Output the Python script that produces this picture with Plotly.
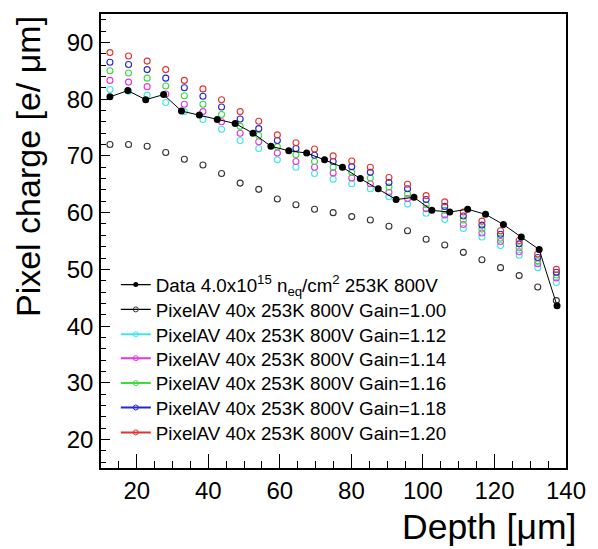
import plotly.graph_objects as go

# ---------------- data ----------------
data_depth = [12.5, 17.5, 22.5, 27.5, 32.5, 37.5, 42.5, 47.5, 52.5, 57.5, 62.5, 67.5, 72.5,
              77.5, 82.5, 87.5, 92.5, 97.5, 102.5, 107.5, 112.5, 117.5, 122.5, 127.5, 132.5, 137.5]
data_charge = [80.4, 81.5, 79.9, 80.8, 77.9, 77.2, 76.4, 75.7, 74.0, 71.7, 70.9, 70.5, 69.3,
               68.0, 66.0, 64.2, 62.3, 62.7, 60.4, 60.1, 60.6, 59.7, 57.9, 55.7, 53.5, 43.6]

sim_depth = [12.5, 17.7, 22.9, 28.1, 33.3, 38.5, 43.7, 48.9, 54.1, 59.3, 64.5, 69.7, 74.9,
             80.1, 85.3, 90.5, 95.7, 100.9, 106.1, 111.3, 116.5, 121.7, 126.9, 132.1, 137.3]
sim_gain100 = [72.0, 72.0, 71.7, 70.6, 69.4, 68.4, 66.9, 65.2, 64.1, 62.4, 61.4, 60.6, 60.0,
               59.3, 58.7, 57.6, 56.8, 55.3, 54.3, 53.0, 51.7, 50.3, 48.9, 46.9, 44.5]
sim_gain112 = [81.7, 81.4, 80.7, 79.4, 77.8, 76.4, 74.7, 72.7, 71.3, 69.3, 68.0, 66.9, 65.9,
               65.1, 64.2, 62.8, 61.5, 59.9, 58.8, 57.2, 55.7, 54.2, 52.5, 50.3, 47.7]
sim_gain114 = [83.3, 83.0, 82.2, 80.9, 79.1, 77.8, 76.0, 74.0, 72.5, 70.5, 69.0, 68.0, 67.0,
               66.1, 65.1, 63.6, 62.5, 60.7, 59.6, 57.9, 56.4, 54.9, 53.1, 51.0, 48.5]
sim_gain116 = [85.0, 84.6, 83.7, 82.3, 80.6, 79.1, 77.3, 75.2, 73.6, 71.6, 70.2, 69.0, 68.0,
               67.1, 66.1, 64.5, 63.3, 61.4, 60.4, 58.7, 57.1, 55.5, 53.8, 51.5, 49.0]
sim_gain118 = [86.5, 86.1, 85.2, 83.7, 82.0, 80.5, 78.6, 76.5, 74.8, 72.7, 71.3, 70.1, 69.0,
               68.1, 67.1, 65.3, 64.2, 62.3, 61.1, 59.4, 57.8, 56.2, 54.5, 52.1, 49.5]
sim_gain120 = [88.2, 87.6, 86.7, 85.2, 83.3, 81.8, 79.9, 77.8, 76.1, 73.7, 72.3, 71.2, 70.0,
               69.1, 68.0, 66.2, 65.0, 63.0, 61.9, 60.1, 58.5, 56.8, 55.1, 52.7, 50.0]

data_label = "Data 4.0x10<sup>15</sup> n<sub>eq</sub>/cm<sup>2</sup> 253K 800V"
sim_labels = ["PixelAV 40x 253K 800V Gain=1.00", "PixelAV 40x 253K 800V Gain=1.12",
              "PixelAV 40x 253K 800V Gain=1.14", "PixelAV 40x 253K 800V Gain=1.16",
              "PixelAV 40x 253K 800V Gain=1.18", "PixelAV 40x 253K 800V Gain=1.20"]
sim_series = [sim_gain100, sim_gain112, sim_gain114, sim_gain116, sim_gain118, sim_gain120]
sim_colors = ["#333333", "#3fe8e8", "#e833e8", "#3cdc3c", "#2626d0", "#e23333"]
legend_line_colors = ["#000000", "#3fe8e8", "#e833e8", "#3cdc3c", "#2626d0", "#e23333"]

FONT = "Liberation Sans, Arial, Helvetica, sans-serif"

# plot-area geometry (pixels) used to place the legend rows
W, H = 598, 549
ML, MR, MT, MB = 101, 26, 12, 81
legend_row_px = [284, 309, 334, 358, 383, 407.5, 432.5]
legend_left_px = 116

fig = go.Figure()

# simulation points (markers only in the plot)
for ys, col in zip(sim_series, sim_colors):
    fig.add_trace(go.Scatter(
        x=sim_depth, y=ys, mode="markers", showlegend=False,
        marker=dict(symbol="circle-open", size=6, color=col, line=dict(width=1.1, color=col)),
        hoverinfo="x+y"))

# data
fig.add_trace(go.Scatter(
    x=data_depth, y=data_charge, mode="lines+markers", showlegend=False,
    line=dict(color="black", width=1),
    marker=dict(symbol="circle", size=7, color="black")))

# legend entries (line + marker like the ROOT legend), one legend per row
legend_names = ["legend"] + ["legend%d" % i for i in range(2, 8)]
fig.add_trace(go.Scatter(
    x=[None], y=[None], mode="lines+markers", name=data_label, legend=legend_names[0],
    line=dict(color="black", width=1.3), marker=dict(symbol="circle", size=5, color="black")))
for k, (lab, col, lcol) in enumerate(zip(sim_labels, sim_colors, legend_line_colors)):
    fig.add_trace(go.Scatter(
        x=[None], y=[None], mode="lines+markers", name=lab, legend=legend_names[k + 1],
        line=dict(color=lcol, width=2 if lcol != "#000000" else 1.3),
        marker=dict(symbol="circle-open", size=5, color=col, line=dict(width=1, color=col))))

plot_w = W - ML - MR
plot_h = H - MT - MB
legend_layout = {}
for name, ypx in zip(legend_names, legend_row_px):
    legend_layout[name] = dict(
        x=(legend_left_px - ML) / plot_w, y=(H - MB - ypx) / plot_h,
        xanchor="left", yanchor="middle",
        bgcolor="rgba(0,0,0,0)", borderwidth=0,
        font=dict(family=FONT, size=18.8, color="black"))

fig.update_layout(
    width=W, height=H,
    margin=dict(l=ML, r=MR, t=MT, b=MB),
    paper_bgcolor="white", plot_bgcolor="white",
    font=dict(family=FONT, color="black"),
    showlegend=True,
    xaxis=dict(range=[10, 140], tick0=0, dtick=20, ticks="inside", ticklen=14, tickwidth=1,
               tickcolor="black", showgrid=False, zeroline=False,
               showline=True, linecolor="black", linewidth=1.5, mirror=True,
               tickfont=dict(family=FONT, size=24), ticklabelstandoff=0,
               minor=dict(dtick=5, tick0=0, ticks="inside", ticklen=7, tickcolor="black", showgrid=False)),
    yaxis=dict(range=[15, 95], tick0=0, dtick=10, ticks="inside", ticklen=9, tickwidth=1,
               tickcolor="black", showgrid=False, zeroline=False,
               showline=True, linecolor="black", linewidth=1.5, mirror=True,
               tickfont=dict(family=FONT, size=24), ticklabelstandoff=1,
               minor=dict(dtick=2, tick0=0, ticks="inside", ticklen=5, tickcolor="black", showgrid=False)),
    annotations=[
        dict(text="Depth [μm]", xref="paper", yref="paper", x=1, y=-0.131,
             xanchor="right", yanchor="middle", xshift=12, showarrow=False,
             font=dict(family=FONT, size=35.5, color="black")),
        dict(text="Pixel charge [e/ μm]", xref="paper", yref="paper", x=-0.158, y=1,
             xanchor="center", yanchor="top", textangle=-90, showarrow=False,
             font=dict(family=FONT, size=34, color="black")),
    ],
    **legend_layout,
)

fig.write_html("out.html")
